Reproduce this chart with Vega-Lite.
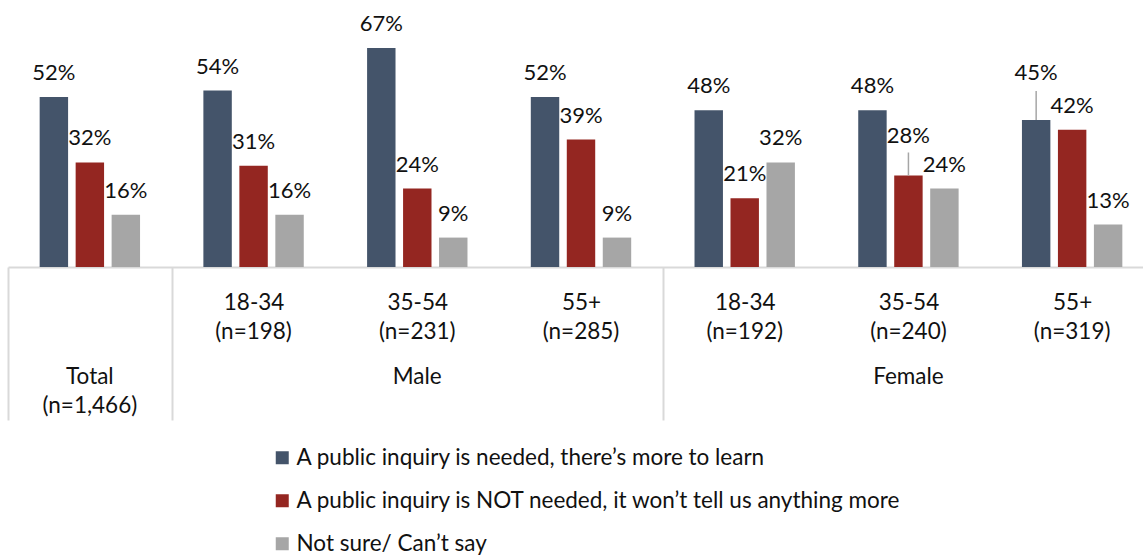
{
  "$schema": "https://vega.github.io/schema/vega-lite/v6.json",
  "autosize": {"type": "none"},
  "width": 1135,
  "height": 267,
  "padding": {"left": 8, "top": 0, "right": 0, "bottom": 289},
  "background": "white",
  "config": {
    "view": {"stroke": null},
    "font": "Lato",
    "text": {"font": "Lato"}
  },
  "data": {
    "values": [
      {"cat": "Total", "series": "A public inquiry is needed, there’s more to learn", "value": 0.52},
      {"cat": "Total", "series": "A public inquiry is NOT needed, it won’t tell us anything more", "value": 0.32},
      {"cat": "Total", "series": "Not sure/ Can’t say", "value": 0.16},
      {"cat": "Male 18-34", "series": "A public inquiry is needed, there’s more to learn", "value": 0.54},
      {"cat": "Male 18-34", "series": "A public inquiry is NOT needed, it won’t tell us anything more", "value": 0.31},
      {"cat": "Male 18-34", "series": "Not sure/ Can’t say", "value": 0.16},
      {"cat": "Male 35-54", "series": "A public inquiry is needed, there’s more to learn", "value": 0.67},
      {"cat": "Male 35-54", "series": "A public inquiry is NOT needed, it won’t tell us anything more", "value": 0.24},
      {"cat": "Male 35-54", "series": "Not sure/ Can’t say", "value": 0.09},
      {"cat": "Male 55+", "series": "A public inquiry is needed, there’s more to learn", "value": 0.52},
      {"cat": "Male 55+", "series": "A public inquiry is NOT needed, it won’t tell us anything more", "value": 0.39},
      {"cat": "Male 55+", "series": "Not sure/ Can’t say", "value": 0.09},
      {"cat": "Female 18-34", "series": "A public inquiry is needed, there’s more to learn", "value": 0.48},
      {"cat": "Female 18-34", "series": "A public inquiry is NOT needed, it won’t tell us anything more", "value": 0.21},
      {"cat": "Female 18-34", "series": "Not sure/ Can’t say", "value": 0.32},
      {"cat": "Female 35-54", "series": "A public inquiry is needed, there’s more to learn", "value": 0.48},
      {"cat": "Female 35-54", "series": "A public inquiry is NOT needed, it won’t tell us anything more", "value": 0.28},
      {"cat": "Female 35-54", "series": "Not sure/ Can’t say", "value": 0.24},
      {"cat": "Female 55+", "series": "A public inquiry is needed, there’s more to learn", "value": 0.45},
      {"cat": "Female 55+", "series": "A public inquiry is NOT needed, it won’t tell us anything more", "value": 0.42},
      {"cat": "Female 55+", "series": "Not sure/ Can’t say", "value": 0.13}
    ]
  },
  "resolve": {"axis": {"x": "independent"}},
  "encoding": {
    "xOffset": {
      "field": "series",
      "type": "nominal",
      "sort": ["A public inquiry is needed, there’s more to learn", "A public inquiry is NOT needed, it won’t tell us anything more", "Not sure/ Can’t say"],
      "scale": {"paddingInner": 0.21, "paddingOuter": 0.88}
    },
    "y": {
      "field": "value",
      "type": "quantitative",
      "scale": {"domain": [0, 0.817], "nice": false, "zero": true},
      "axis": null
    }
  },
  "layer": [
    {
      "mark": {"type": "bar"},
      "encoding": {
        "x": {
          "field": "cat",
          "type": "nominal",
          "sort": ["Total", "Male 18-34", "Male 35-54", "Male 55+", "Female 18-34", "Female 35-54", "Female 55+"],
          "scale": {"range": [0, 1146], "paddingInner": 0, "paddingOuter": 0},
          "title": null,
          "axis": {
            "orient": "bottom",
            "domainColor": "#d9d9d9",
            "domainWidth": 2,
            "tickBand": "extent",
            "tickExtra": true,
            "tickColor": "#d9d9d9",
            "tickWidth": 2,
            "tickSize": 153,
            "tickOpacity": {"condition": {"test": "datum.extra || !isValid(datum.value) || datum.value === 'Total' || datum.value === 'Male 55+'", "value": 1}, "value": 0},
            "labelAngle": 0,
            "labelFont": "Lato",
            "labelFontSize": 22.5,
            "labelColor": "#111111",
            "labelBaseline": "middle",
            "labelPadding": -118,
            "labelOverlap": false,
            "labelLimit": 400,
            "labelExpr": "{'Total': '', 'Male 18-34': '18-34', 'Male 35-54': '35-54', 'Male 55+': '55+', 'Female 18-34': '18-34', 'Female 35-54': '35-54', 'Female 55+': '55+'}[datum.value]"
          }
        },
        "color": {
          "field": "series",
          "type": "nominal",
          "scale": {
            "domain": ["A public inquiry is needed, there’s more to learn", "A public inquiry is NOT needed, it won’t tell us anything more", "Not sure/ Can’t say"],
            "range": ["#44546A", "#942621", "#A6A6A6"]
          },
          "legend": {
            "title": null,
            "orient": "none",
            "legendX": 263,
            "legendY": 446.5,
            "direction": "vertical",
            "symbolType": "square",
            "symbolSize": 169,
            "symbolStrokeWidth": 0,
            "labelFont": "Lato",
            "labelFontSize": 22.5,
            "labelColor": "#111111",
            "labelOffset": 3,
            "labelLimit": 800,
            "rowPadding": 20,
            "padding": 0
          }
        }
      }
    },
    {
      "transform": [{"filter": "!((datum.cat == 'Female 35-54' && datum.value == 0.28) || (datum.cat == 'Female 55+' && datum.value == 0.45))"}],
      "mark": {"type": "text", "baseline": "middle", "align": "center", "dy": -24, "fontSize": 22, "font": "Lato", "color": "#111111"},
      "encoding": {
        "x": {
          "field": "cat",
          "type": "nominal",
          "sort": ["Total", "Male 18-34", "Male 35-54", "Male 55+", "Female 18-34", "Female 35-54", "Female 55+"],
          "scale": {"range": [0, 1146], "paddingInner": 0, "paddingOuter": 0},
          "title": null,
          "axis": {
            "orient": "bottom",
            "domain": false,
            "ticks": false,
            "tickSize": 0,
            "labelAngle": 0,
            "labelFont": "Lato",
            "labelFontSize": 22.5,
            "labelColor": "#111111",
            "labelBaseline": "middle",
            "labelPadding": 64,
            "labelOverlap": false,
            "labelLimit": 400,
            "labelExpr": "{'Total': '', 'Male 18-34': '(n=198)', 'Male 35-54': '(n=231)', 'Male 55+': '(n=285)', 'Female 18-34': '(n=192)', 'Female 35-54': '(n=240)', 'Female 55+': '(n=319)'}[datum.value]"
          }
        },
        "text": {"field": "value", "type": "quantitative", "format": ".0%"}
      }
    },
    {
      "transform": [{"filter": "datum.cat == 'Female 35-54' && datum.value == 0.28"}],
      "mark": {"type": "text", "baseline": "middle", "align": "center", "dy": -39, "fontSize": 22, "font": "Lato", "color": "#111111"},
      "encoding": {
        "x": {
          "field": "cat",
          "type": "nominal",
          "sort": ["Total", "Male 18-34", "Male 35-54", "Male 55+", "Female 18-34", "Female 35-54", "Female 55+"],
          "scale": {"range": [0, 1146], "paddingInner": 0, "paddingOuter": 0},
          "title": null,
          "axis": {
            "orient": "bottom",
            "domain": false,
            "ticks": false,
            "tickSize": 0,
            "labelAngle": 0,
            "labelFont": "Lato",
            "labelFontSize": 22.5,
            "labelColor": "#111111",
            "labelBaseline": "middle",
            "labelPadding": 109,
            "labelOverlap": false,
            "labelLimit": 400,
            "labelExpr": "{'Total': 'Total', 'Male 18-34': '', 'Male 35-54': 'Male', 'Male 55+': '', 'Female 18-34': '', 'Female 35-54': 'Female', 'Female 55+': ''}[datum.value]"
          }
        },
        "text": {"field": "value", "type": "quantitative", "format": ".0%"}
      }
    },
    {
      "transform": [{"filter": "datum.cat == 'Female 55+' && datum.value == 0.45"}],
      "mark": {"type": "text", "baseline": "middle", "align": "center", "dy": -46.5, "fontSize": 22, "font": "Lato", "color": "#111111"},
      "encoding": {
        "x": {
          "field": "cat",
          "type": "nominal",
          "sort": ["Total", "Male 18-34", "Male 35-54", "Male 55+", "Female 18-34", "Female 35-54", "Female 55+"],
          "scale": {"range": [0, 1146], "paddingInner": 0, "paddingOuter": 0},
          "title": null,
          "axis": {
            "orient": "bottom",
            "domain": false,
            "ticks": false,
            "tickSize": 0,
            "labelAngle": 0,
            "labelFont": "Lato",
            "labelFontSize": 22.5,
            "labelColor": "#111111",
            "labelBaseline": "middle",
            "labelPadding": 138,
            "labelOverlap": false,
            "labelLimit": 400,
            "labelExpr": "datum.value === 'Total' ? '(n=1,466)' : ''"
          }
        },
        "text": {"field": "value", "type": "quantitative", "format": ".0%"}
      }
    },
    {
      "transform": [{"filter": "datum.cat == 'Female 35-54' && datum.value == 0.28"}],
      "mark": {"type": "rule", "color": "#A6A6A6", "strokeWidth": 1.5, "y2Offset": -23},
      "encoding": {
        "x": {
          "field": "cat",
          "type": "nominal",
          "sort": ["Total", "Male 18-34", "Male 35-54", "Male 55+", "Female 18-34", "Female 35-54", "Female 55+"],
          "scale": {"range": [0, 1146], "paddingInner": 0, "paddingOuter": 0},
          "axis": null
        },
        "y2": {"field": "value"}
      }
    },
    {
      "transform": [{"filter": "datum.cat == 'Female 55+' && datum.value == 0.45"}],
      "mark": {"type": "rule", "color": "#A6A6A6", "strokeWidth": 1.5, "y2Offset": -29},
      "encoding": {
        "x": {
          "field": "cat",
          "type": "nominal",
          "sort": ["Total", "Male 18-34", "Male 35-54", "Male 55+", "Female 18-34", "Female 35-54", "Female 55+"],
          "scale": {"range": [0, 1146], "paddingInner": 0, "paddingOuter": 0},
          "axis": null
        },
        "y2": {"field": "value"}
      }
    }
  ]
}
